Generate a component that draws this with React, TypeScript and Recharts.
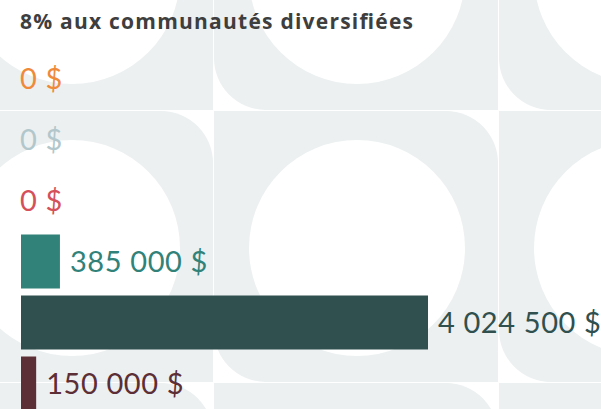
import React from "react";
import { BarChart, Bar, XAxis, YAxis, Cell, LabelList, Rectangle } from "recharts";

const categories = ["Catégorie 1", "Catégorie 2", "Catégorie 3", "Catégorie 4", "Catégorie 5", "Catégorie 6"];
const amounts = [0, 0, 0, 385000, 4024500, 150000];
const barColors = ["#EF8A3B", "#B2C7CB", "#D5505A", "#318279", "#30504F", "#5C2E35"];
const title = "8% aux communautés diversifiées";

const data = categories.map((name, i) => ({ name, value: amounts[i] }));

const formatAmount = (v: number) =>
  String(v).replace(/\B(?=(\d{3})+(?!\d))/g, " ") + " $";

const TILE_GRAY = "#ECF0F1";

function Background() {
  const tiles: React.ReactNode[] = [];
  const stepX = 285;
  const stepY = 272;
  const r = 52;
  for (let i = -1; i <= 1; i++) {
    for (let j = -1; j <= 1; j++) {
      const x0 = 214 + stepX * i;
      const x1 = x0 + stepX - 1;
      const y0 = 111 + stepY * j;
      const y1 = y0 + stepY - 1;
      const d = `M${x0} ${y0} H${x1 - r} A${r} ${r} 0 0 1 ${x1} ${y0 + r} V${y1} H${x0 + r} A${r} ${r} 0 0 1 ${x0} ${y1 - r} Z`;
      tiles.push(<path key={`t${i}${j}`} d={d} fill={TILE_GRAY} />);
      tiles.push(
        <circle key={`c${i}${j}`} cx={(x0 + x1) / 2 + 1} cy={(y0 + y1) / 2 + 1.5} r={108} fill="#FFFFFF" />
      );
    }
  }
  return (
    <svg width={601} height={409} style={{ position: "absolute", left: 0, top: 0 }}>
      <rect x={0} y={0} width={601} height={409} fill="#FFFFFF" />
      {tiles}
    </svg>
  );
}

const indexOfName = (name: string) => categories.indexOf(name);

const renderLabel = (props: any) => {
  const { x, y, width, height, value } = props;
  const idx = indexOfName(String(value));
  if (idx < 0) return null;
  const amount = amounts[idx];
  const w = amount > 0 ? Number(width) || 0 : 0;
  const lx = Number(x) + w + (w > 0 ? 10 : -1);
  const cy = Number(y) + Number(height) / 2;
  return (
    <text
      key={`lbl${idx}`}
      x={lx}
      y={cy + 10.5}
      fill={barColors[idx]}
      fontFamily="Lato, 'Noto Sans', sans-serif"
      fontSize={29}
      letterSpacing={0.6}
      textAnchor="start"
    >
      {formatAmount(amount)}
    </text>
  );
};

const renderBar = (props: any) => {
  const { payload } = props;
  if (!payload || payload.value <= 0) return <g />;
  return <Rectangle {...props} />;
};

export default function App() {
  return (
    <div style={{ position: "absolute", left: 0, top: 0, width: 601, height: 409, overflow: "hidden", background: "#fff" }}>
      <Background />
      <svg width={601} height={409} style={{ position: "absolute", left: 0, top: 0 }}>
        <text
          x={20}
          y={28.5}
          fill="#3E3E3E"
          fontFamily="'Open Sans', Lato, sans-serif"
          fontWeight={700}
          fontSize={21}
          textLength={393}
          lengthAdjust="spacing"
        >
          {title}
        </text>
      </svg>
      <div style={{ position: "absolute", left: 0, top: 0 }}>
        <BarChart
          width={601}
          height={420}
          data={data}
          layout="vertical"
          margin={{ top: 47.5, right: 173, bottom: 6.5, left: 21 }}
          barCategoryGap={7}
        >
          <XAxis type="number" hide domain={[0, 4024500]} />
          <YAxis type="category" dataKey="name" hide width={0} />
          <Bar dataKey="value" barSize={54} minPointSize={0.01} shape={renderBar} isAnimationActive={false}>
            {data.map((d, i) => (
              <Cell key={d.name} fill={barColors[i]} />
            ))}
            <LabelList dataKey="name" content={renderLabel} />
          </Bar>
        </BarChart>
      </div>
    </div>
  );
}
